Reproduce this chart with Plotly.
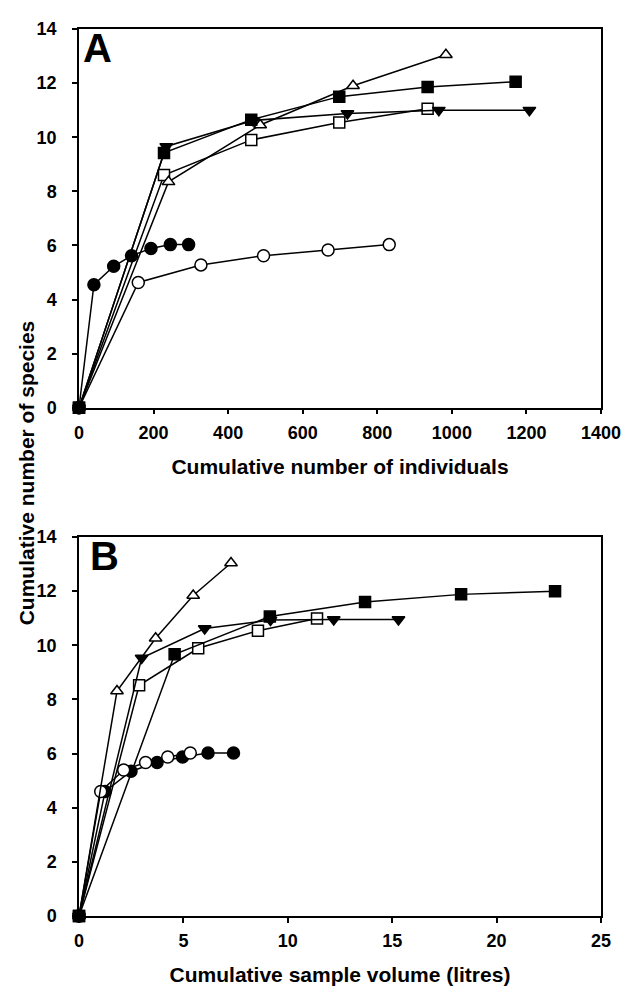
import plotly.graph_objects as go

# ---- Panel A: cumulative number of individuals ----
a_filled_circle_x = [0, 40, 93, 141, 193, 245, 294]
a_filled_circle_y = [0, 4.55, 5.23, 5.62, 5.89, 6.03, 6.03]
a_open_circle_x = [0, 159, 327, 495, 668, 832]
a_open_circle_y = [0, 4.63, 5.28, 5.62, 5.83, 6.03]
a_filled_square_x = [0, 228, 462, 698, 935, 1171]
a_filled_square_y = [0, 9.42, 10.65, 11.5, 11.86, 12.05]
a_open_square_x = [0, 228, 462, 698, 935]
a_open_square_y = [0, 8.6, 9.9, 10.54, 11.05]
a_filled_tri_x = [0, 234, 467, 720, 965, 1208]
a_filled_tri_y = [0, 9.66, 10.62, 10.88, 11.0, 11.0]
a_open_tri_x = [0, 240, 486, 735, 984]
a_open_tri_y = [0, 8.35, 10.45, 11.9, 13.05]

# ---- Panel B: cumulative sample volume (litres) ----
b_filled_circle_x = [0, 1.25, 2.49, 3.74, 4.96, 6.18, 7.4]
b_filled_circle_y = [0, 4.6, 5.35, 5.67, 5.87, 6.02, 6.02]
b_open_circle_x = [0, 1.04, 2.14, 3.19, 4.25, 5.33]
b_open_circle_y = [0, 4.6, 5.39, 5.67, 5.87, 6.02]
b_filled_square_x = [0, 4.58, 9.14, 13.7, 18.3, 22.8]
b_filled_square_y = [0, 9.67, 11.06, 11.6, 11.88, 12.0]
b_open_square_x = [0, 2.88, 5.71, 8.57, 11.4]
b_open_square_y = [0, 8.52, 9.89, 10.54, 10.99]
b_filled_tri_x = [0, 3.0, 6.02, 9.17, 12.2, 15.3]
b_filled_tri_y = [0, 9.53, 10.62, 10.93, 10.95, 10.95]
b_open_tri_x = [0, 1.82, 3.67, 5.47, 7.28]
b_open_tri_y = [0, 8.31, 10.26, 11.84, 13.04]

x_title_a = "Cumulative number of individuals"
x_title_b = "Cumulative sample volume (litres)"
y_title = "Cumulative number of species"

FONT = "Liberation Sans, Arial, sans-serif"

styles = {
    "filled_circle": dict(symbol="circle", color="black", size=12),
    "open_circle": dict(symbol="circle", color="white", size=12),
    "filled_square": dict(symbol="square", color="black", size=11),
    "open_square": dict(symbol="square", color="white", size=11),
    "filled_tri": dict(symbol="triangle-down", color="black", size=11),
    "open_tri": dict(symbol="triangle-up", color="white", size=11),
}

panel_a = [
    ("filled_circle", a_filled_circle_x, a_filled_circle_y),
    ("open_circle", a_open_circle_x, a_open_circle_y),
    ("open_square", a_open_square_x, a_open_square_y),
    ("open_tri", a_open_tri_x, a_open_tri_y),
    ("filled_tri", a_filled_tri_x, a_filled_tri_y),
    ("filled_square", a_filled_square_x, a_filled_square_y),
]
panel_b = [
    ("filled_circle", b_filled_circle_x, b_filled_circle_y),
    ("open_circle", b_open_circle_x, b_open_circle_y),
    ("open_square", b_open_square_x, b_open_square_y),
    ("open_tri", b_open_tri_x, b_open_tri_y),
    ("filled_tri", b_filled_tri_x, b_filled_tri_y),
    ("filled_square", b_filled_square_x, b_filled_square_y),
]

fig = go.Figure()


def add_series(series, xa, ya):
    for key, xs, ys in series:
        st = styles[key]
        fig.add_trace(go.Scatter(
            x=xs, y=ys, mode="lines+markers", xaxis=xa, yaxis=ya,
            line=dict(color="black", width=1.5),
            marker=dict(symbol=st["symbol"], color=st["color"], size=st["size"],
                        line=dict(color="black", width=1.5)),
            cliponaxis=False, showlegend=False,
        ))


add_series(panel_a, "x", "y")
add_series(panel_b, "x2", "y2")

axis_common = dict(
    showgrid=False, zeroline=False, showline=True, linecolor="black",
    linewidth=1.5, mirror=True, ticks="outside", ticklen=5, tickwidth=1.5,
    tickcolor="black",
    tickfont=dict(family=FONT, size=18, color="black", weight="bold"),
)
title_font = dict(family=FONT, size=21, color="black", weight="bold")

# The page body has an 8px margin, so the figure is sized/margined to fit.
fig.update_layout(
    width=624, height=986,
    margin=dict(l=71, r=24, t=11, b=78),
    paper_bgcolor="white", plot_bgcolor="white",
    xaxis=dict(axis_common, range=[0, 1400], dtick=200, anchor="y",
               domain=[0, 1], ticklabelstandoff=3,
               title=dict(text=x_title_a, standoff=17, font=title_font)),
    yaxis=dict(axis_common, range=[0, 14], dtick=2, anchor="x",
               domain=[0.573, 1], ticklabelstandoff=12),
    xaxis2=dict(axis_common, range=[0, 25], dtick=5, anchor="y2",
                domain=[0, 1], ticklabelstandoff=3,
                title=dict(text=x_title_b, standoff=17, font=title_font)),
    yaxis2=dict(axis_common, range=[0, 14], dtick=2, anchor="x2",
                domain=[0, 0.4273], ticklabelstandoff=12),
    annotations=[
        dict(text="A", xref="x domain", yref="y domain", x=0.004, y=1.013,
             xanchor="left", yanchor="top", showarrow=False,
             font=dict(family=FONT, size=40, color="black", weight="bold")),
        dict(text="B", xref="x2 domain", yref="y2 domain", x=0.017, y=1.013,
             xanchor="left", yanchor="top", showarrow=False,
             font=dict(family=FONT, size=40, color="black", weight="bold")),
        dict(text=y_title, xref="paper", yref="paper", x=-0.100, y=0.5,
             xanchor="center", yanchor="middle", textangle=-90, showarrow=False,
             font=title_font),
    ],
)

fig.write_html("out.html")
